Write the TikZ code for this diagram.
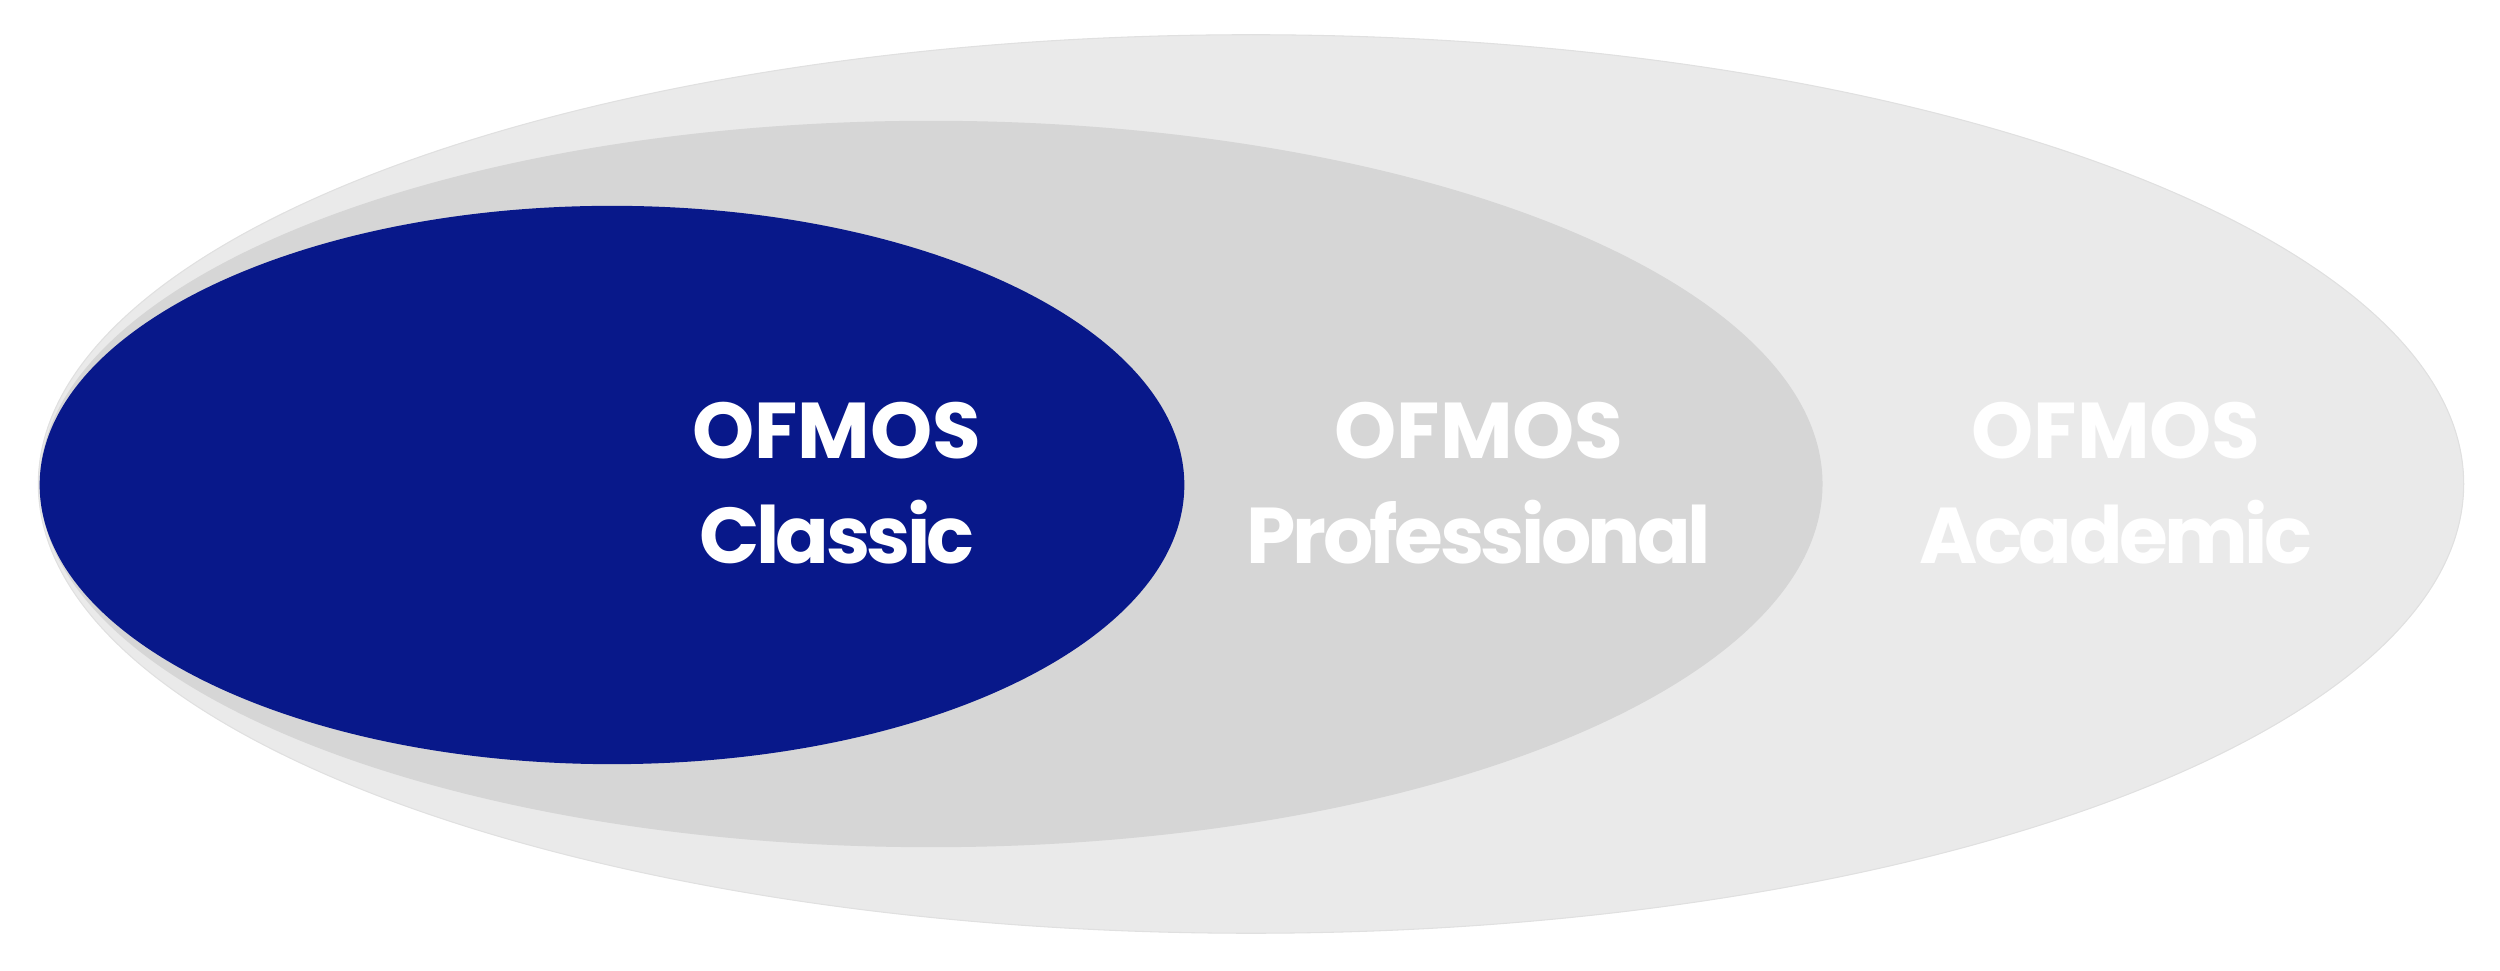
\documentclass[tikz,border=0pt]{standalone}
\usepackage{fontspec}
\setmainfont{Poppins}
\newfontfamily\tightfont{Poppins}[LetterSpace=-4.5]
\definecolor{navy}{HTML}{08188A}
\definecolor{outergrey}{HTML}{EAEAEA}
\definecolor{midgrey}{HTML}{D6D6D6}
\tikzset{
  lbl/.style={text=white, align=center, inner sep=0pt,
    font=\bfseries\fontsize{22.5}{30}\selectfont}
}
\begin{document}
\begin{tikzpicture}[x=0.01cm,y=-0.01cm]
\useasboundingbox (0,0) rectangle (2500,971);
\fill[outergrey, draw=black!12, line width=0.3pt] (1251,484) ellipse [x radius=12.12cm, y radius=4.49cm];
\fill[midgrey] (931,484) ellipse [x radius=8.91cm, y radius=3.63cm];
\fill[navy] (612,485) ellipse [x radius=5.72cm, y radius=2.79cm];
\node[lbl] (classic) at (837,483) {OFMOS\\{\tightfont\bfseries Classic}};
\node[lbl] (prof) at (1479,483) {OFMOS\\{\tightfont\bfseries Professional}};
\node[lbl] (acad) at (2116,483) {OFMOS\\{\tightfont\bfseries Academic}};
\end{tikzpicture}
\end{document}
